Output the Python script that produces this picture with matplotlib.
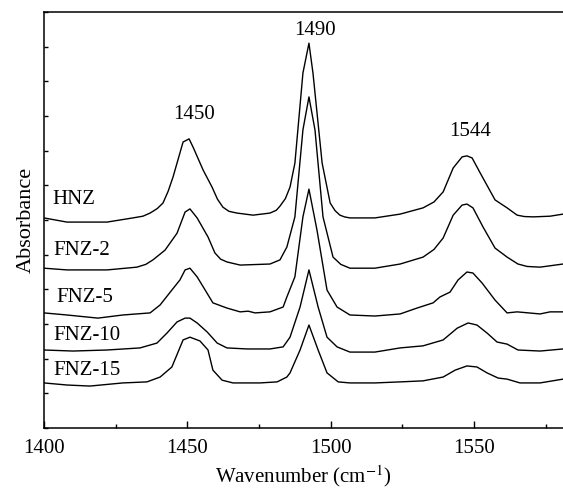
import numpy as np
import matplotlib
matplotlib.use("Agg")
import matplotlib.pyplot as plt
from matplotlib.ticker import MultipleLocator

plt.rcParams['font.family'] = ['Liberation Serif', 'DejaVu Serif']
plt.rcParams['mathtext.fontset'] = 'stix'

# spectra (wavenumber, absorbance a.u.)
wn_hnz = [1400, 1408.0, 1422.0, 1431.0, 1434.5, 1437.0, 1439.5, 1441.5, 1443.3, 1445.0, 1448.5,
          1450.6, 1452.0, 1455.5, 1458.6, 1460.5, 1462.4, 1464.5, 1467.3, 1472.9, 1478.8,
          1481.0, 1482.3, 1484.2, 1485.8, 1487.5, 1490.3, 1492.4, 1493.8, 1497.0, 1499.8,
          1501.5, 1503.2, 1504.8, 1506.7, 1515.4, 1524.2, 1532.2, 1536.0, 1539.2, 1542.7,
          1545.8, 1547.5, 1549.3, 1552.1, 1557.3, 1561.5, 1565.0, 1567.5, 1570.6, 1576.5,
          1581.0]
ab_hnz = [0.606, 0.594, 0.594, 0.606, 0.611, 0.620, 0.633, 0.649, 0.683, 0.724, 0.825,
          0.834, 0.810, 0.744, 0.695, 0.660, 0.637, 0.625, 0.620, 0.614, 0.620,
          0.628, 0.640, 0.662, 0.695, 0.764, 1.024, 1.110, 1.024, 0.764, 0.649,
          0.627, 0.614, 0.609, 0.606, 0.606, 0.617, 0.635, 0.652, 0.681, 0.750,
          0.782, 0.785, 0.779, 0.736, 0.658, 0.635, 0.614, 0.610, 0.609, 0.611,
          0.617]

wn_fnz2 = [1400, 1408.0, 1422.0, 1432.4, 1435.5, 1438.0, 1442.2, 1446.4, 1449.2, 1450.9,
           1453.4, 1457.2, 1459.6, 1461.6, 1463.8, 1468.4, 1478.8, 1482.3, 1484.7, 1487.5,
           1490.3, 1492.4, 1494.5, 1497.3, 1500.8, 1503.5, 1506.7, 1515.4, 1524.2, 1532.2,
           1536.0, 1539.2, 1542.7, 1545.8, 1547.5, 1549.6, 1553.1, 1557.3, 1561.5, 1565.3,
           1568.5, 1573.0, 1581.0]
ab_fnz2 = [0.461, 0.456, 0.456, 0.464, 0.472, 0.485, 0.513, 0.562, 0.623, 0.632,
           0.606, 0.551, 0.505, 0.487, 0.479, 0.470, 0.473, 0.485, 0.522, 0.609,
           0.860, 0.955, 0.860, 0.609, 0.493, 0.472, 0.461, 0.461, 0.473, 0.493,
           0.515, 0.548, 0.614, 0.643, 0.646, 0.635, 0.580, 0.519, 0.493, 0.473,
           0.466, 0.464, 0.473]

wn_fnz5 = [1400, 1408.0, 1418.8, 1427.5, 1437.0, 1440.5, 1444.6, 1447.4, 1449.2, 1450.9,
           1453.4, 1456.2, 1458.9, 1463.8, 1468.4, 1471.2, 1473.6, 1478.8, 1483.4, 1484.7,
           1487.5, 1490.3, 1492.4, 1495.2, 1498.7, 1502.2, 1506.7, 1515.4, 1524.2, 1530.1,
           1535.7, 1538.1, 1541.6, 1544.4, 1547.5, 1549.6, 1552.8, 1557.3, 1561.5, 1565.0,
           1573.0, 1576.5, 1581.0]
ab_fnz5 = [0.332, 0.326, 0.317, 0.326, 0.332, 0.355, 0.398, 0.427, 0.456, 0.461,
           0.436, 0.398, 0.361, 0.346, 0.335, 0.337, 0.332, 0.335, 0.349, 0.378,
           0.436, 0.609, 0.689, 0.571, 0.398, 0.349, 0.326, 0.323, 0.329, 0.346,
           0.361, 0.378, 0.392, 0.427, 0.450, 0.447, 0.418, 0.369, 0.332, 0.335,
           0.329, 0.335, 0.335]

wn_fnz10 = [1400, 1410.1, 1422.0, 1433.5, 1439.4, 1442.9, 1446.4, 1449.2, 1450.9, 1453.4,
            1456.9, 1460.4, 1463.8, 1470.8, 1478.8, 1483.4, 1485.8, 1489.3, 1492.4, 1495.6,
            1498.7, 1502.2, 1506.7, 1515.4, 1524.2, 1532.2, 1539.2, 1544.1, 1547.9, 1551.0,
            1554.5, 1558.0, 1561.5, 1565.3, 1573.0, 1581.0]
ab_fnz10 = [0.225, 0.222, 0.225, 0.231, 0.245, 0.274, 0.306, 0.317, 0.317, 0.303,
            0.277, 0.245, 0.231, 0.228, 0.228, 0.234, 0.262, 0.349, 0.456, 0.349,
            0.262, 0.234, 0.219, 0.219, 0.231, 0.237, 0.254, 0.288, 0.303, 0.297,
            0.274, 0.248, 0.242, 0.225, 0.222, 0.228]

wn_fnz15 = [1400, 1408.0, 1416.0, 1427.5, 1435.9, 1440.5, 1444.6, 1448.5, 1450.9, 1454.4,
            1457.2, 1458.9, 1462.1, 1465.9, 1475.3, 1481.3, 1484.7, 1485.8, 1489.3, 1492.4,
            1495.6, 1498.7, 1502.6, 1506.7, 1515.4, 1524.2, 1532.2, 1539.2, 1543.4, 1547.5,
            1551.0, 1554.5, 1558.4, 1561.5, 1566.0, 1573.0, 1581.0]
ab_fnz15 = [0.130, 0.124, 0.121, 0.130, 0.133, 0.147, 0.176, 0.254, 0.262, 0.251,
            0.225, 0.167, 0.138, 0.130, 0.130, 0.133, 0.147, 0.159, 0.225, 0.297,
            0.225, 0.159, 0.133, 0.130, 0.130, 0.133, 0.136, 0.147, 0.167, 0.179,
            0.176, 0.159, 0.144, 0.141, 0.130, 0.130, 0.141]

names = ["HNZ", "FNZ-2", "FNZ-5", "FNZ-10", "FNZ-15"]
label_pos = [(1402.8, 0.658), (1403.1, 0.513), (1404.2, 0.375), (1403.1, 0.268), (1403.1, 0.167)]
peaks = ["1450", "1490", "1544"]
peak_pos = [(1452.3, 0.903), (1494.5, 1.148), (1548.6, 0.854)]

fig = plt.figure(figsize=(5.63, 4.88), dpi=100)
ax = fig.add_axes([44/563, 60/488, 519/563, 416/488])

for x, y in [(wn_hnz, ab_hnz), (wn_fnz2, ab_fnz2), (wn_fnz5, ab_fnz5),
             (wn_fnz10, ab_fnz10), (wn_fnz15, ab_fnz15)]:
    ax.plot(x, y, color='black', lw=1.0)

for n, (x, y) in zip(names, label_pos):
    ax.text(x, y, n, fontsize=15, ha='left', va='center')
for p, (x, y) in zip(peaks, peak_pos):
    ax.text(x, y, p, fontsize=15, ha='center', va='center')

ax.set_xlim(1400, 1581)
ax.set_ylim(0, 1.2)
ax.xaxis.set_major_locator(MultipleLocator(50))
ax.xaxis.set_minor_locator(MultipleLocator(25))
ax.yaxis.set_major_locator(MultipleLocator(0.1))
ax.tick_params(axis='x', which='major', direction='in', length=5, width=1, labelsize=15, pad=8)
ax.tick_params(axis='x', which='minor', direction='in', length=3, width=1)
ax.tick_params(axis='y', direction='in', length=3, width=1, labelleft=False)
ax.spines['right'].set_visible(False)
for s in ['left', 'top', 'bottom']:
    ax.spines[s].set_linewidth(1.1)

ax.set_xlabel("Wavenumber (cm$^{-1}$)", fontsize=15, labelpad=4)
ax.set_ylabel("Absorbance", fontsize=16, labelpad=6)

fig.savefig("out.png", dpi=100)
